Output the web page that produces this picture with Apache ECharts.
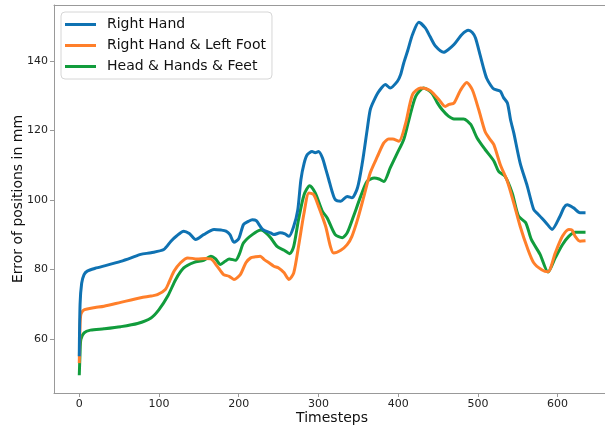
<!DOCTYPE html>
<html>
<head>
<meta charset="utf-8">
<script src="https://cdn.jsdelivr.net/npm/echarts@6/dist/echarts.min.js"></script>
<style>html,body{margin:0;padding:0;background:#fff;overflow:hidden;}#c{width:620px;height:427px;}</style>
</head>
<body>
<div id="c"></div>
<script>
const seriesNames = ['Right Hand', 'Right Hand & Left Foot', 'Head & Hands & Feet'];
const xTicks = [0, 100, 200, 300, 400, 500, 600];
const yTicks = [60, 80, 100, 120, 140];

const rhT = [0,1,3,6,10,20,35,52,65,77,90,106,115,122,131,138,146,156,169,178,184,189,194,200,206,212,217,222,230,240,244,252,258,263,269,274,278,282,286,292,296,300,305,309,313,317,321,328,336,342,349,355,361,365,370,376,384,390,399,403,407,412,418,426,434,440,447,457,463,470,480,488,493,497,503,507,511,516,520,528,532,537,541,545,553,562,570,575,580,587,593,603,608,612,620,628,635];
const rhV = [55,70,76,78.5,79.5,80.3,81.2,82.3,83.3,84.3,84.8,85.7,88.1,89.6,91.0,90.3,88.6,90.0,91.5,91.3,91.0,90.0,87.8,88.8,92.9,93.8,94.3,94.0,91.5,90.5,90.0,90.5,90.2,89.5,92.4,97,105.8,110.5,113.0,113.9,113.6,113.9,112.1,109,105.8,102.5,100.1,99.6,101.0,100.6,103.5,110.6,120.0,126.0,128.8,131.3,133.2,132.2,134.1,136,139.4,143,147.6,151.1,149.5,147,144.2,142.5,143.3,144.7,147.6,148.8,148.2,146.6,141.5,138.0,135.0,133.0,131.9,131.3,129.5,127.9,123,119.3,110.6,103.9,97.2,96.0,94.8,93.0,91.5,95.3,97.8,98.6,97.7,96.3,96.3];

const rlT = [0,1,2,5,10,20,31,52,77,90,98,108,113,119,127,136,148,158,165,173,181,188,194,202,209,215,221,227,232,238,244,250,257,263,269,275,282,288,294,300,309,315,319,328,336,342,349,357,365,374,382,388,393,401,409,418,428,435,441,451,459,464,470,478,486,493,501,509,515,520,528,537,545,553,562,570,580,588,597,606,614,618,622,628,635];
const rlV = [53,64,67.0,68.2,68.6,69.0,69.4,70.5,71.8,72.3,72.7,74.2,76.5,79.5,81.9,83.3,83.0,83.1,83.0,80.9,78.5,78.0,77.1,78.5,81.9,83.3,83.6,83.8,82.8,81.9,80.9,80.4,79.0,77.1,79.0,86.6,96.3,102.0,101.5,98.2,92.4,86.6,84.7,85.5,87.1,89.5,94.3,101.0,107.8,112.5,116.4,117.5,117.5,116.9,121.7,130.3,132.2,132.0,131.3,128.9,126.9,127.5,127.9,131.5,133.8,131.7,126.0,119.7,117.5,115.9,110.2,105.3,99.1,92.4,86.2,81.9,79.9,79.3,84.7,89.5,91.5,91.3,89.5,88.1,88.2];

const hhT = [0,1,2,6,14,31,52,73,90,100,111,121,131,144,156,165,171,177,183,188,196,201,206,217,228,234,240,248,257,264,269,275,282,289,296,305,311,321,330,336,344,353,361,370,376,382,390,399,407,413,422,432,442,449,455,463,470,482,491,499,509,520,526,534,543,551,560,567,578,588,597,606,614,622,635];
const hhV = [49.5,56,59.8,61.7,62.5,62.9,63.5,64.4,66.0,68.4,72.3,77.1,80.4,82.0,82.6,83.8,83.0,81.4,82.3,83.0,82.6,84.5,87.6,90.0,91.3,90.5,89.1,86.6,85.5,84.5,86.6,94.3,101.5,104.1,102.0,96.7,94.8,90.0,89.1,90.5,95.3,101.0,105.3,106.3,106.0,105.3,109.2,113.5,117.4,122.6,129.8,132.2,130.8,128,126.0,124.1,123.3,123.3,121.7,117.8,114.5,111.2,108.2,106.8,102.0,95.3,93.4,88.6,84.3,79.2,83.3,87.1,89.5,90.7,90.7];

const colors = ['#0f72b2', '#ff7f2a', '#119c3c'];
const zip = (t, v) => t.map((x, i) => [x, v[i]]);
const allData = [zip(rhT, rhV), zip(rlT, rlV), zip(hhT, hhV)];

const font = 'DejaVu Sans';
const spine = {show: true, onZero: false, lineStyle: {color: '#999', width: 1}};
const chart = echarts.init(document.getElementById('c'), null, {renderer: 'canvas'});
chart.setOption({
  animation: false,
  backgroundColor: '#fff',
  grid: {left: 54, top: 5, width: 556, height: 388, show: false, containLabel: false, outerBoundsMode: 'none'},
  legend: {
    orient: 'vertical', left: 61, top: 12,
    icon: 'rect', itemWidth: 31, itemHeight: 3, itemGap: 4,
    padding: [4, 6, 4, 4],
    backgroundColor: '#fff', borderColor: '#d6d6d6', borderWidth: 1, borderRadius: 4,
    textStyle: {fontFamily: font, fontSize: 14, color: '#111', lineHeight: 17, padding: [0, 0, 0, 6]},
    data: seriesNames
  },
  xAxis: [{
    type: 'value', min: -31.7, max: 665.7,
    name: 'Timesteps', nameLocation: 'middle', nameGap: 18, nameMoveOverlap: false,
    nameTextStyle: {fontFamily: font, fontSize: 14, color: '#111'},
    axisLine: spine,
    axisTick: {show: true, length: 4, lineStyle: {color: '#999'}, customValues: xTicks},
    axisLabel: {fontFamily: font, fontSize: 11, color: '#222', margin: 6, customValues: xTicks},
    splitLine: {show: false}
  }, {
    type: 'value', position: 'top', min: -31.7, max: 665.7,
    axisLine: spine, axisTick: {show: false}, axisLabel: {show: false}, splitLine: {show: false}
  }],
  yAxis: {
    type: 'value', min: 44.4, max: 156.1,
    name: 'Error of positions in mm', nameLocation: 'middle', nameGap: 29, nameMoveOverlap: false,
    nameTextStyle: {fontFamily: font, fontSize: 14, color: '#111'},
    axisLine: spine,
    axisTick: {show: true, length: 4, lineStyle: {color: '#999'}, customValues: yTicks},
    axisLabel: {fontFamily: font, fontSize: 11, color: '#222', margin: 6, customValues: yTicks},
    splitLine: {show: false}
  },
  series: seriesNames.map((n, i) => ({
    name: n, type: 'line', data: allData[i], showSymbol: false, smooth: 0.25,
    color: colors[i], lineStyle: {width: 3, color: colors[i]}, z: 3 - i
  }))
});
</script>
</body>
</html>
